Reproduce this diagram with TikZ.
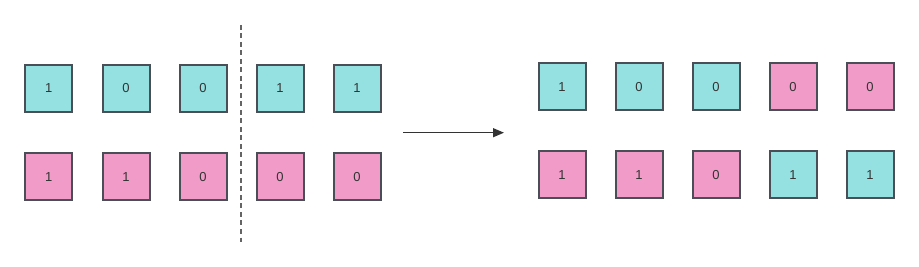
\documentclass[tikz,border=0pt]{standalone}
\usepackage{fontspec}
\setmainfont{Liberation Sans}
\usetikzlibrary{arrows.meta}
\definecolor{cyanbox}{RGB}{149,224,225}
\definecolor{pinkbox}{RGB}{241,155,200}
\definecolor{edgegray}{RGB}{74,79,87}
\definecolor{txtgray}{RGB}{51,51,51}
\definecolor{dashgray}{RGB}{100,100,100}
\begin{document}
\begin{tikzpicture}[x=1pt,y=-1pt,
  bitbox/.style={draw=edgegray,line width=2pt,minimum width=47pt,minimum height=47pt,
    inner sep=0pt,text=txtgray,font=\fontsize{13}{15}\selectfont},
  cy/.style={bitbox,fill=cyanbox},
  pk/.style={bitbox,fill=pinkbox},
  divider/.style={draw=dashgray,line width=1.5pt,dash pattern=on 5pt off 3.5pt},
  flow/.style={draw=txtgray,line width=1.2pt,-{Triangle[length=11pt,width=9pt]}}]
\useasboundingbox (0,0) rectangle (919,267);
% left group, top row
\node[cy] (a1) at (48.7,88.5) {1};
\node[cy] (a2) at (126,88.5) {0};
\node[cy] (a3) at (203,88.5) {0};
\node[cy] (a4) at (280,88.5) {1};
\node[cy] (a5) at (357,88.5) {1};
% left group, bottom row
\node[pk] (b1) at (48.7,177) {1};
\node[pk] (b2) at (126,177) {1};
\node[pk] (b3) at (203,177) {0};
\node[pk] (b4) at (280,177) {0};
\node[pk] (b5) at (357,177) {0};
% divider
\coordinate (d1) at (241,25);
\coordinate (d2) at (241,242);
\draw[divider] (d1) -- (d2);
% arrow
\coordinate (s) at (403,132.7);
\coordinate (e) at (504,132.7);
\draw[flow] (s) -- (e);
% right group, top row
\node[cy] (c1) at (562,87) {1};
\node[cy] (c2) at (639,87) {0};
\node[cy] (c3) at (716,87) {0};
\node[pk] (c4) at (793,87) {0};
\node[pk] (c5) at (870,87) {0};
% right group, bottom row
\node[pk] (r1) at (562,174.7) {1};
\node[pk] (r2) at (639,174.7) {1};
\node[pk] (r3) at (716,174.7) {0};
\node[cy] (r4) at (793,174.7) {1};
\node[cy] (r5) at (870,174.7) {1};
\end{tikzpicture}
\end{document}
